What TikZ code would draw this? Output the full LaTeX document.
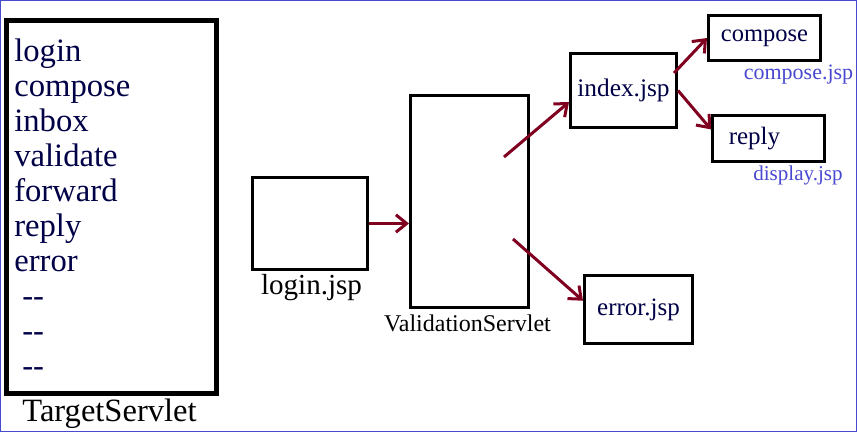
\documentclass[tikz,border=0pt]{standalone}
\usepackage{fontspec}
\setmainfont{Liberation Serif}
\usetikzlibrary{arrows.meta}

\definecolor{navy}{RGB}{0,0,70}
\definecolor{linkblue}{RGB}{72,72,208}
\definecolor{flowred}{RGB}{128,0,32}

\tikzset{
  box/.style={draw, line width=2.25pt, inner sep=0pt, text=navy},
  caption/.style={anchor=base, inner sep=0pt},
  flow/.style={draw=flowred, line width=2.25pt, -{Straight Barb[length=8pt,width=13pt]}},
}

\begin{document}
\begin{tikzpicture}[x=0.75pt, y=-0.75pt]
\useasboundingbox (0,0) rectangle (857,432);
\draw[linkblue, line width=0.75pt] (0.5,0.5) rectangle (856.5,431.5);

%% TargetServlet with its list
\node[box, line width=3.75pt, minimum width=157.5pt, minimum height=279.75pt] (target) at (111,207) {};
\foreach \w [count=\i] in {login,compose,inbox,validate,forward,reply,error,{\hspace*{6pt}-{}-},{\hspace*{6pt}-{}-},{\hspace*{6pt}-{}-}}
  \node[anchor=base west, inner sep=0pt, text=navy, font=\fontsize{24.5}{26}\selectfont] (item\i) at (14,{26+35*\i}) {\w};
\node[caption, font=\fontsize{24.4}{26}\selectfont] (targetlabel) at (109.5,421) {TargetServlet};

%% login page and servlet
\node[box, minimum width=86.25pt, minimum height=69pt] (login) at (310,223.5) {};
\node[caption, font=\fontsize{21.8}{24}\selectfont] (loginlabel) at (311.5,294) {login.jsp};
\node[box, minimum width=88.5pt, minimum height=159pt] (valid) at (469.5,201.5) {};
\node[caption, font=\fontsize{18}{20}\selectfont] (validlabel) at (467.5,331) {ValidationServlet};

%% targets of the servlet
\node[box, minimum width=79.5pt, minimum height=55.5pt, font=\fontsize{19}{21}\selectfont] (index) at (623.5,90.5) {index.jsp};
\node[box, minimum width=81pt, minimum height=51pt, font=\fontsize{18.75}{21}\selectfont] (error) at (638.5,309.5) {\raisebox{-4pt}{error.jsp}};
\node[box, minimum width=84pt, minimum height=33.75pt, font=\fontsize{18.4}{21}\selectfont] (compose) at (764.5,38) {compose};
\node[box, minimum width=84pt, minimum height=34.5pt, font=\fontsize{18.75}{21}\selectfont] (reply) at (768.5,138.5) {reply\hspace*{21pt}};
\node[caption, text=linkblue, font=\fontsize{16.5}{18}\selectfont] (composelabel) at (798.5,79) {compose.jsp};
\node[caption, text=linkblue, font=\fontsize{15.8}{18}\selectfont] (replylabel) at (798,180) {display.jsp};

%% flow
\coordinate (vtop) at (504,157);
\coordinate (vlow) at (513,239);
\coordinate (itop) at (674,73);
\draw[flow] (login.east) -- (login.east -| valid.west);
\draw[flow] (vtop) -- (index.192);
\draw[flow] (vlow) -- (error.171);
\draw[flow] (itop) -- (compose.west);
\draw[flow] (index.east) -- (reply.171);

\end{tikzpicture}
\end{document}
